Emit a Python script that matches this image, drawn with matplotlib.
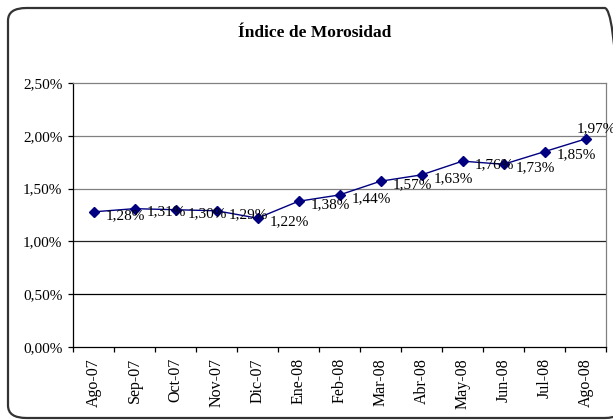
import matplotlib
matplotlib.use("Agg")
import matplotlib.pyplot as plt
from matplotlib.patches import FancyBboxPatch
import numpy as np

categories = ["Ago-07", "Sep-07", "Oct-07", "Nov-07", "Dic-07", "Ene-08", "Feb-08",
              "Mar-08", "Abr-08", "May-08", "Jun-08", "Jul-08", "Ago-08"]
values = [1.28, 1.31, 1.30, 1.29, 1.22, 1.38, 1.44, 1.57, 1.63, 1.76, 1.73, 1.85, 1.97]
yticks = [0.0, 0.5, 1.0, 1.5, 2.0, 2.5]
title = "Índice de Morosidad"

plt.rcParams['font.family'] = ['Liberation Serif', 'DejaVu Serif']

W, H = 613, 420
fig = plt.figure(figsize=(W / 100, H / 100), dpi=100)

# rounded outer frame
frame = FancyBboxPatch((8 / W, 2 / H), (W + 10 - 8) / W, (H - 10) / H,
                       boxstyle="round,pad=0,rounding_size=0.03",
                       transform=fig.transFigure, fill=False,
                       edgecolor="#333333", linewidth=1.6, clip_on=False)
fig.patches.append(frame)

ax = fig.add_axes([73 / W, (H - 347) / H, 533 / W, 264 / H])
x = np.arange(len(categories))

ax.set_xlim(-0.5, len(categories) - 0.5)
ax.set_ylim(0, 2.5)

grid_colors = {0.5: "#000000", 1.0: "#222222", 1.5: "#808080", 2.0: "#808080"}
for yv, c in grid_colors.items():
    ax.axhline(yv, color=c, linewidth=0.9, zorder=1)

ax.plot(x, values, color="#000080", linewidth=1.0, marker="D", markersize=5.5,
        markerfacecolor="#000080", markeredgecolor="#000080", zorder=3)

for i, v in enumerate(values):
    lab = f"{v:.2f}".replace(".", ",") + "%"
    if i == len(values) - 1:
        ax.annotate(lab, (x[i], v), xytext=(-6, 3), textcoords="offset points",
                    ha="left", va="bottom", fontsize=11, annotation_clip=False,
                    clip_on=False)
    else:
        ax.annotate(lab, (x[i], v), xytext=(8.5, -2.5), textcoords="offset points",
                    ha="left", va="center", fontsize=11, annotation_clip=False)

ax.set_yticks(yticks)
ax.set_yticklabels([f"{t:.2f}".replace(".", ",") + "%" for t in yticks], fontsize=11)
ax.set_xticks(np.arange(-0.5, len(categories) + 0.5, 1.0), minor=False)
ax.set_xticklabels([])
ax.set_xticks(x, minor=True)
ax.set_xticklabels(categories, minor=True, rotation=90, fontsize=11.5)
ax.tick_params(axis="x", which="minor", length=0, pad=8)
ax.tick_params(axis="x", which="major", length=3.6, direction="out", color="black", width=0.9)
ax.tick_params(axis="y", length=3.6, direction="out", color="black", width=0.9, pad=4)

ax.spines["left"].set_color("black")
ax.spines["bottom"].set_color("black")
ax.spines["top"].set_color("#808080")
ax.spines["right"].set_color("#808080")
for s in ax.spines.values():
    s.set_linewidth(0.9)

fig.text(315 / W, 1 - 33 / H, title, ha="center", va="center",
         fontsize=12.5, fontweight="bold")

fig.savefig("out.png", dpi=100)
